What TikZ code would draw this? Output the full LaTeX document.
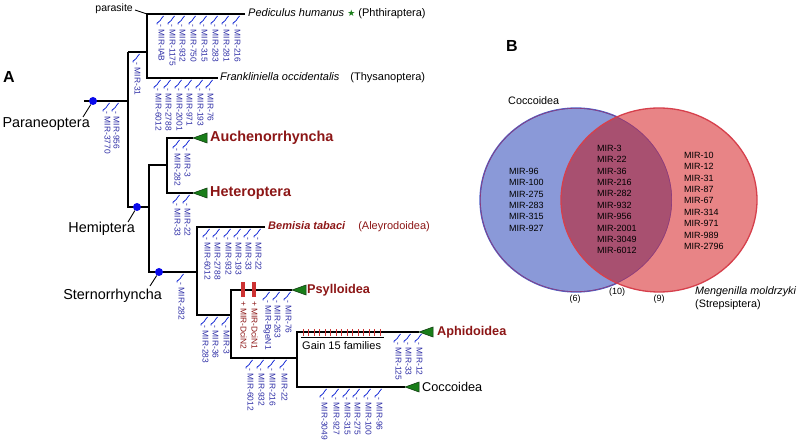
\documentclass[tikz,border=0pt]{standalone}
\usepackage{fontspec}
\setmainfont{Liberation Sans}
\newfontfamily\dejavu{DejaVu Sans}
\definecolor{cladered}{RGB}{140,22,22}
\definecolor{lossblue}{RGB}{45,45,165}
\definecolor{squigblue}{RGB}{25,45,215}
\definecolor{trigreen}{RGB}{25,125,25}
\definecolor{gainred}{RGB}{205,50,50}
\definecolor{vblue}{RGB}{138,153,216}
\definecolor{vred}{RGB}{232,132,134}
\definecolor{vover}{RGB}{168,80,112}
\definecolor{vbluedge}{RGB}{78,98,200}
\definecolor{vbluein}{RGB}{140,60,125}
\definecolor{vrededge}{RGB}{214,64,76}
\definecolor{dotblue}{RGB}{10,10,235}
\newcommand\fsz[1]{\fontsize{#1}{#1}\selectfont}
\newcommand\lossmark[3]{%
  \draw[lossline] (#1-4,#2+10.5) .. controls (#1-4.5,#2+7) and (#1-1.5,#2+9.5) .. (#1-0.8,#2+6.5) .. controls (#1,#2+3.5) and (#1+1.5,#2+4.5) .. (#1+2.5,#2+2);
  \node[losstext] (loss-#1-#2) at (#1+0.5,#2+10.5) {- #3};}
\newcommand\gainmark[3]{%
  \fill[gainred] (#1-1.8,#2-8) rectangle (#1+1.8,#2+7);
  \node[gaintext] (gain-#1-#2) at (#1+0.5,#2+11) {+ #3};}
\tikzset{
  brline/.style={line width=1.1pt, black},
  lossline/.style={squigblue, line width=0.8pt},
  losstext/.style={rotate=-90, anchor=west, inner sep=0pt, text=lossblue, font=\fsz{8.4}},
  gaintext/.style={rotate=-90, anchor=west, inner sep=0pt, text=cladered, font=\fsz{8.4}},
  cladetri/.style={fill=trigreen, draw=black!60!trigreen, line width=0.5pt},
  nodedot/.style={circle, fill=dotblue, inner sep=0pt, minimum size=8pt},
  bigclade/.style={anchor=west, inner sep=0pt, text=cladered, font=\fsz{14.4}\bfseries},
  smallclade/.style={anchor=west, inner sep=0pt, text=cladered, font=\fsz{12.7}\bfseries},
  grouplab/.style={inner sep=0pt, font=\fsz{14.4}},
  taxon/.style={anchor=west, inner sep=0pt, font=\fsz{11}},
  venntext/.style={anchor=north west, inner sep=0pt, align=left, font=\fontsize{9}{11.4}\selectfont},
  vennlab/.style={inner sep=0pt, font=\fsz{10.8}},
  countlab/.style={inner sep=0pt, font=\fsz{9}},
  pointer/.style={line width=0.9pt, black},
  panellab/.style={inner sep=0pt, font=\fsz{16}\bfseries},
}
\begin{document}
\begin{tikzpicture}[x=1pt,y=-1pt]
\useasboundingbox (0,0) rectangle (800,446);
% panel labels
\node[panellab] (labA) at (9,77) {A};
\node[panellab] (labB) at (512,46) {B};
% ---------- tree coordinates ----------
\coordinate (root) at (84,101);
\coordinate (r1) at (128,101);
\coordinate (r1t) at (128,52);
\coordinate (r1b) at (128,207);
\coordinate (pt) at (147,52);
\coordinate (ptt) at (147,14);
\coordinate (ptb) at (147,78);
\coordinate (ped) at (245,14);
\coordinate (fra) at (218,78);
\coordinate (hem) at (149,207);
\coordinate (hemt) at (149,165);
\coordinate (hemb) at (149,272);
\coordinate (ah) at (167,165);
\coordinate (aht) at (167,138);
\coordinate (ahb) at (167,193);
\coordinate (auch) at (193,138);
\coordinate (het) at (193,193);
\coordinate (st) at (197,272);
\coordinate (stt) at (197,227);
\coordinate (stb) at (197,315);
\coordinate (bem) at (265,227);
\coordinate (pa) at (231,315);
\coordinate (pat) at (231,290);
\coordinate (pab) at (231,358);
\coordinate (psy) at (292,290);
\coordinate (ac) at (297,358);
\coordinate (act) at (297,332);
\coordinate (acb) at (297,387);
\coordinate (aph) at (419,332);
\coordinate (coc) at (405,387);
% ---------- branches ----------
\draw[brline] (root) -- (r1);
\draw[brline] (r1t) -- (r1b) -- (hem);
\draw[brline] (r1t) -- (pt);
\draw[brline] (ped) -- (ptt) -- (ptb) -- (fra);
\draw[brline] (ah) -- (hemt) -- (hemb) -- (st);
\draw[brline] (auch) -- (aht) -- (ahb) -- (het);
\draw[brline] (bem) -- (stt) -- (stb) -- (pa);
\draw[brline] (psy) -- (pat) -- (pab) -- (ac);
\draw[brline] (aph) -- (act) -- (acb) -- (coc);
% clade triangles
\foreach \c in {auch,het,psy,aph,coc}{
  \draw[cladetri] (\c) -- ++(14,-5) -- ++(0,10) -- cycle;}
% node dots
\node[nodedot] (dotpar) at (93,101) {};
\node[nodedot] (dothem) at (137,207) {};
\node[nodedot] (dotste) at (159,272) {};
% group labels
\node[grouplab, anchor=east] (parlab) at (90,124) {Paraneoptera};
\node[grouplab, anchor=east] (hemlab) at (135,229) {Hemiptera};
\node[grouplab, anchor=east] (stelab) at (162,296) {Sternorrhyncha};
\coordinate (parptr) at (83,117);
\coordinate (hemptr) at (128,222);
\coordinate (steptr) at (150,286);
\draw[pointer] (parptr) -- (dotpar);
\draw[pointer] (hemptr) -- (dothem);
\draw[pointer] (steptr) -- (dotste);
\node[inner sep=0pt, anchor=east, font=\fsz{10.5}] (paras) at (133,9) {parasite};
\draw[line width=0.9pt] (paras.east) ++(2,1) -- (ptt);
% taxon labels
\node[taxon] (pedlab) at (248,14) {\itshape Pediculus humanus\upshape\ {\color{trigreen}\dejavu\fsz{9}★} (Phthiraptera)};
\node[taxon] (fralab) at (220,78) {\itshape Frankliniella occidentalis\upshape\hspace{8pt} (Thysanoptera)};
\node[taxon, text=cladered] (bemlab) at (268,227) {\bfseries\itshape Bemisia tabaci\mdseries\upshape\hspace{10pt} (Aleyrodoidea)};
\node[bigclade] (auchlab) at (210,138) {Auchenorrhyncha};
\node[bigclade] (hetlab) at (210,193) {Heteroptera};
\node[smallclade] (psylab) at (307,290) {Psylloidea};
\node[smallclade] (aphlab) at (437,332) {Aphidoidea};
\node[anchor=west, inner sep=0pt, font=\fsz{12.7}] (coclab) at (422,387) {Coccoidea};
% ---------- loss marks ----------
\lossmark{107}{101}{MIR-3770}
\lossmark{116}{101}{MIR-956}
\lossmark{137}{52}{MIR-31}
\lossmark{161}{14}{MIR-IAB}
\lossmark{172}{14}{MIR-1175}
\lossmark{182}{14}{MIR-932}
\lossmark{193}{14}{MIR-750}
\lossmark{204}{14}{MIR-315}
\lossmark{215}{14}{MIR-283}
\lossmark{226}{14}{MIR-281}
\lossmark{237}{14}{MIR-216}
\lossmark{158}{78}{MIR-6012}
\lossmark{168}{78}{MIR-2788}
\lossmark{179}{78}{MIR-2001}
\lossmark{189}{78}{MIR-971}
\lossmark{200}{78}{MIR-193}
\lossmark{210}{78}{MIR-76}
\lossmark{177}{138}{MIR-282}
\lossmark{187}{138}{MIR-3}
\lossmark{177}{193}{MIR-33}
\lossmark{187}{193}{MIR-22}
\lossmark{181}{272}{MIR-282}
\lossmark{207}{227}{MIR-6012}
\lossmark{217}{227}{MIR-2788}
\lossmark{228}{227}{MIR-932}
\lossmark{238}{227}{MIR-193}
\lossmark{248}{227}{MIR-33}
\lossmark{258}{227}{MIR-22}
\lossmark{205}{315}{MIR-283}
\lossmark{215}{315}{MIR-36}
\lossmark{226}{315}{MIR-3}
\gainmark{243}{290}{MIR-DciN2}
\gainmark{254}{290}{MIR-DciN1}
\lossmark{267}{290}{MIR-BgeN1}
\lossmark{277}{290}{MIR-263}
\lossmark{288}{290}{MIR-76}
\lossmark{250}{358}{MIR-6012}
\lossmark{261}{358}{MIR-932}
\lossmark{272}{358}{MIR-216}
\lossmark{284}{358}{MIR-22}
\lossmark{398}{332}{MIR-125}
\lossmark{408}{332}{MIR-33}
\lossmark{419}{332}{MIR-12}
\lossmark{324}{387}{MIR-3049}
\lossmark{336}{387}{MIR-927}
\lossmark{347}{387}{MIR-315}
\lossmark{357}{387}{MIR-275}
\lossmark{368}{387}{MIR-100}
\lossmark{379}{387}{MIR-96}
% gain 15 families
\foreach \i in {0,...,14}{\draw[gainred, line width=0.6pt] (303+\i*5.5,329) -- (303+\i*5.5,336);}
\draw[line width=0.8pt] (301,337.5) -- (384,337.5);
\node[anchor=west, inner sep=0pt, font=\fsz{11}] (gainlab) at (302,346) {Gain 15 families};
% ---------- Venn ----------
\fill[vblue] (576,200) ellipse [x radius=96, y radius=92];
\draw[vbluedge, line width=1.3pt] (576,200) ellipse [x radius=96, y radius=92];
\fill[vred] (659,200) ellipse [x radius=98, y radius=92];
\begin{scope}
  \clip (576,200) ellipse [x radius=96, y radius=92];
  \fill[vover] (659,200) ellipse [x radius=98, y radius=92];
  \draw[vbluein, line width=1.3pt] (576,200) ellipse [x radius=96, y radius=92];
\end{scope}
\draw[vrededge, line width=1.3pt] (659,200) ellipse [x radius=98, y radius=92];
\node[venntext] (vleft) at (509,167.8) {MIR-96\\MIR-100\\MIR-275\\MIR-283\\MIR-315\\MIR-927};
\node[venntext] (vmid) at (597,144.8) {MIR-3\\MIR-22\\MIR-36\\MIR-216\\MIR-282\\MIR-932\\MIR-956\\MIR-2001\\MIR-3049\\MIR-6012};
\node[venntext] (vright) at (684,151.8) {MIR-10\\MIR-12\\MIR-31\\MIR-87\\MIR-67\\MIR-314\\MIR-971\\MIR-989\\MIR-2796};
\node[vennlab, anchor=west] (vcoc) at (508,101) {Coccoidea};
\node[countlab] (c6) at (575,299) {(6)};
\node[countlab] (c10) at (617,292) {(10)};
\node[countlab] (c9) at (659,299) {(9)};
\node[vennlab, anchor=west] (vmen) at (695,292) {\itshape Mengenilla moldrzyki};
\node[vennlab, anchor=west] (vstr) at (695,304.5) {(Strepsiptera)};
\end{tikzpicture}
\end{document}
